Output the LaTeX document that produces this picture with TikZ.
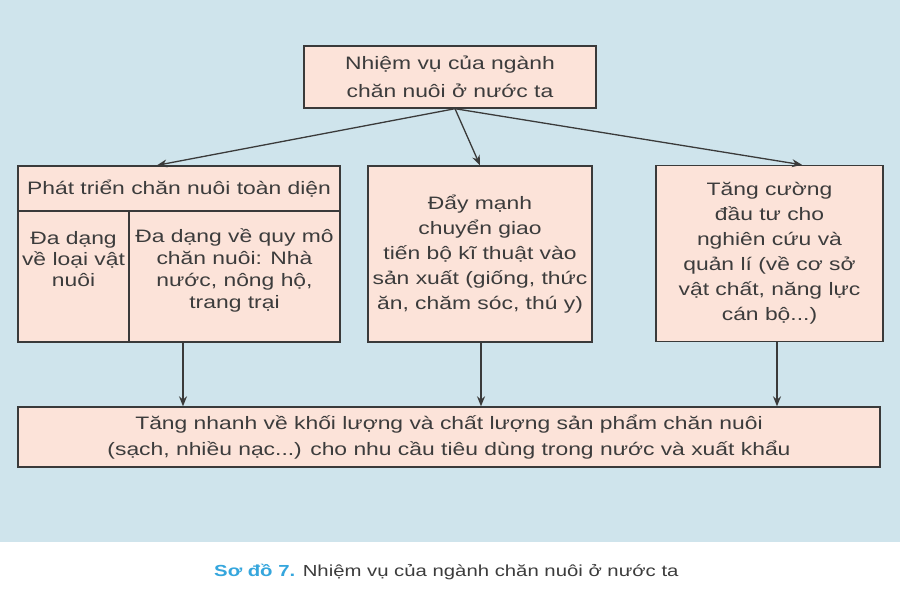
\documentclass[tikz,border=0pt]{standalone}
\usepackage{fontspec}
\setmainfont{Liberation Sans}[FakeStretch=1.27]
\usetikzlibrary{arrows.meta,calc}
\definecolor{bgblue}{HTML}{CFE4EC}
\definecolor{boxfill}{HTML}{FCE3D9}
\definecolor{edgecol}{HTML}{3A3A3A}
\definecolor{txt}{HTML}{3C3C3C}
\definecolor{capblue}{HTML}{35A6DD}
\begin{document}
\begin{tikzpicture}[x=1pt,y=-1pt,
  box/.style={draw=edgecol, line width=1.4pt, fill=boxfill, text=txt, align=center, inner sep=0pt, font=\fontsize{18}{25}\selectfont},
  lbl/.style={text=txt, align=center, inner sep=0pt},
  arr/.style={draw=edgecol, line width=1.3pt, -{Stealth[length=10pt,width=8pt]}}]
\useasboundingbox (0,0) rectangle (900,603);
\fill[white] (0,0) rectangle (900,603);
\fill[bgblue] (0,0) rectangle (900,542);

\node[box, minimum width=292pt, minimum height=62pt, font=\fontsize{18}{28}\selectfont] (top) at (450,77) {Nhiệm vụ của ngành\\chăn nuôi ở nước ta};

\node[box, minimum width=322pt, minimum height=45pt] (hdr) at (179,188.5) {Phát triển chăn nuôi toàn diện};
\node[box, minimum width=111pt, minimum height=131pt] (cellA) at (73.5,276.5) {};
\node[box, minimum width=211pt, minimum height=131pt] (cellB) at (234.5,276.5) {};
\node[lbl, font=\fontsize{18}{21}\selectfont] (tA) at (73.5,259) {Đa dạng\\về loại vật\\nuôi};
\node[lbl, font=\fontsize{18}{22}\selectfont] (tB) at (234.5,270) {Đa dạng về quy mô\\chăn nuôi: Nhà\\nước, nông hộ,\\trang trại};

\node[box, minimum width=224pt, minimum height=176pt] (mid) at (480,254) {Đẩy mạnh\\chuyển giao\\tiến bộ kĩ thuật vào\\sản xuất (giống, thức\\ăn, chăm sóc, thú y)};
\node[box, minimum width=227pt, minimum height=176pt] (rgt) at (769.5,253.5) {Tăng cường\\đầu tư cho\\nghiên cứu và\\quản lí (về cơ sở\\vật chất, năng lực\\cán bộ...)};

\node[box, minimum width=862pt, minimum height=60pt, font=\fontsize{18}{26}\selectfont] (bot) at (449,437) {Tăng nhanh về khối lượng và chất lượng sản phẩm chăn nuôi\\(sạch, nhiều nạc...) cho nhu cầu tiêu dùng trong nước và xuất khẩu};

\draw[arr] ([xshift=5pt]top.south) -- ([xshift=-22pt]hdr.north);
\draw[arr] ([xshift=5pt]top.south) -- (mid.north);
\draw[arr] ([xshift=5pt]top.south) -- ([xshift=32.5pt]rgt.north);

\draw[arr] ([xshift=-51.5pt]cellB.south) -- ([xshift=-266pt]bot.north);
\draw[arr] ([xshift=1pt]mid.south) -- ([xshift=32pt]bot.north);
\draw[arr] ([xshift=7.5pt]rgt.south) -- ([xshift=328pt]bot.north);

\node[anchor=west, inner sep=0pt, text=txt, font=\fontsize{16}{18}\selectfont] (cap) at (214,572) {\textcolor{capblue}{\textbf{Sơ đồ 7.}} Nhiệm vụ của ngành chăn nuôi ở nước ta};
\end{tikzpicture}
\end{document}
